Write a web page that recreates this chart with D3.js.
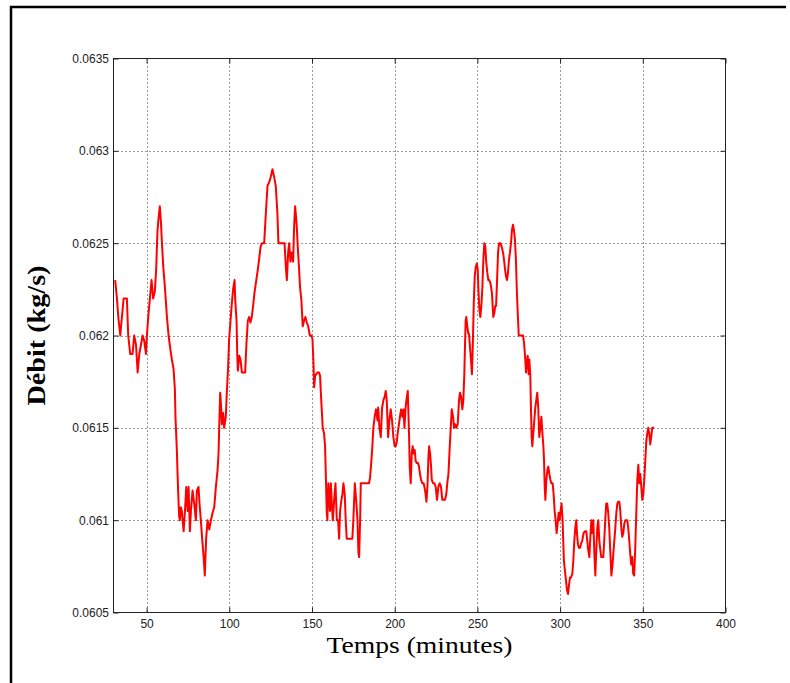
<!DOCTYPE html>
<html>
<head>
<meta charset="utf-8">
<script src="https://cdn.jsdelivr.net/npm/d3@7"></script>
<style>
  html, body { margin: 0; padding: 0; background: #fff; }
  svg { display: block; }
</style>
</head>
<body>
<svg id="chart" width="790" height="683"></svg>
<script>
// ---- data ----
const minutes = [
  31,32.1,32.9,34.1,35.1,36.1,38.1,38.9,40.1,41.5,42.5,43.6,44.6,45.6,46.6,47.6,48.6,49.6,50.2,51,
  52,53,54,55,55.8,56.6,57.3,58,58.7,59.3,60.1,61.1,62.3,63.3,64.3,65.3,66.3,67.1,67.5,68.3,
  68.7,69.1,69.7,70.1,70.7,71.3,72.4,73.2,74,74.8,75.4,76.2,76.8,77.8,78.8,79.8,80.4,81.4,82,82.8,
  83.6,84.5,85.2,86,86.9,87.9,88.9,89.9,90.9,91.9,92.9,93.5,93.9,94.5,95.1,95.5,96.3,96.9,97.9,98.5,
  99.3,99.9,100.5,101.5,102.3,103.2,103.6,104.4,104.8,105.2,106,106.8,107.6,108.4,109.6,110.4,111.2,112,112.8,113.6,
  114.4,115.2,116,117,118,118.9,119.7,121.1,122.1,123.1,124.1,125.1,126.1,127.1,128.1,129.1,129.7,131.1,132.6,133.4,
  134.2,134.8,135.6,136.2,137,137.8,138.6,139.2,139.8,140.2,140.8,141.4,142.2,142.8,143.6,144.4,145.2,146,146.9,147.7,
  148.7,149.7,150.3,150.9,151.3,151.9,152.5,153.3,154.3,154.9,155.3,155.9,156.5,157.3,157.9,158.5,158.9,159.3,159.9,160.5,
  160.9,161.4,162,162.6,163.4,164.2,165,165.8,166.4,167,167.8,168.4,169,169.8,170.4,171,172.4,173.4,174.4,175,
  175.9,176.7,177.5,178.1,178.5,179.1,179.5,180.5,182.5,184.5,185.1,185.9,186.5,187.1,187.9,188.7,189.6,190,190.8,191.6,
  192.4,193.2,194,194.6,195.2,196,196.8,197.6,198.4,199.2,200,200.6,201.2,201.8,202.6,203.2,203.9,204.7,205.3,205.9,
  206.5,207.1,207.9,208.3,208.7,209.1,209.7,210.3,210.9,211.5,212.1,212.7,213.3,214.1,214.7,215.3,215.9,216.7,217.5,218.4,
  219.2,219.8,220.4,220.8,221.4,222,222.4,223.2,224,224.8,225.6,226.4,227.2,228,228.8,229.6,230.4,231.2,231.8,232.5,
  233.3,233.9,234.5,235.3,235.9,236.5,237.3,238.1,238.9,239.5,240.1,240.9,241.5,242.1,242.5,242.9,243.3,243.9,244.5,244.9,
  245.5,246.1,246.7,247.2,247.8,248.4,249,249.6,250.2,250.6,251.2,251.8,252.4,253,253.6,254.2,254.8,255.4,256,256.6,
  257.2,258,258.8,259.6,260.2,260.8,261.3,261.9,262.5,263.1,263.9,264.7,265.5,266.1,266.7,267.3,267.9,268.5,269.1,269.7,
  270.3,270.9,271.5,272.1,272.7,273.3,273.9,274.6,275,275.8,276.6,277.6,278.2,278.8,279.4,279.8,280.4,281,281.4,282,
  282.4,282.8,283.2,283.8,284.4,285,285.6,286.2,286.8,287.4,288,288.7,289.3,289.9,290.3,290.7,291.1,291.7,292.3,292.9,
  293.5,294.1,294.7,295.5,296.1,296.7,297.3,297.9,298.5,299.1,299.7,300.3,300.9,301.5,301.9,302.3,302.9,303.6,304.2,304.8,
  305.4,306,306.6,307.4,308,308.6,309.2,309.8,310.2,310.8,311.4,312,312.6,313.4,314.2,315,315.8,316.4,317,317.7,
  318.3,318.9,319.5,320.1,320.7,321.3,321.9,322.5,323.1,323.7,324.3,324.9,325.5,326.1,326.7,327.3,327.9,328.5,329.1,329.7,
  330.3,331,331.6,332.2,332.8,333.4,334,334.6,335.2,335.8,336.4,337,337.6,338.2,338.8,339.4,340,340.6,341.2,341.8,
  342.4,343,343.6,344.2,344.8,345.4,346.1,346.7,347.3,347.9,348.5,349.1,349.7,350.3,350.9,351.5,352.1,352.7,353.3,353.9,
  354.5,355.1,355.7,356.3,356.9
];
const debit = [
  .0623,.0622,.0621,.0620,.0621,.0622,.0622,.0620,.0619,.0619,.0620,.06195,.0618,.0619,.06195,.0620,.06197,.0619,.0620,.0621,
  .0622,.0623,.0622,.06224,.06236,.06257,.06264,.0627,.06261,.0625,.06237,.06226,.0621,.0620,.06193,.06187,.06182,.06171,.06155,.06138,
  .06126,.06115,.06102,.0610,.06107,.06105,.06094,.06105,.06118,.06105,.06118,.06094,.06105,.06116,.06109,.0610,.06116,.06118,.06109,.0610,
  .0609,.0608,.0607,.0609,.0610,.06095,.0610,.06104,.06107,.06118,.06127,.06136,.0615,.06169,.06161,.06152,.06158,.0615,.06156,.06169,
  .06183,.06198,.06205,.06217,.06225,.0623,.06219,.06208,.0619,.06181,.06189,.06187,.0618,.0618,.0618,.06196,.06208,.0621,.06207,.0621,
  .06216,.06223,.06228,.06234,.06241,.06248,.0625,.0625,.06266,.06281,.06283,.06286,.0629,.06286,.06281,.06266,.0625,.0625,.0625,.0625,
  .06237,.0623,.06245,.0625,.0624,.06245,.0624,.06259,.0627,.06266,.06259,.06248,.06236,.06226,.06219,.06205,.06208,.0621,.06207,.06205,
  .0620,.0620,.06198,.06185,.06172,.06178,.06179,.0618,.0618,.06178,.0617,.0616,.0615,.06147,.0614,.0612,.06105,.0610,.0612,.06111,
  .06105,.0612,.06109,.0610,.06111,.0612,.0610,.0610,.0609,.06105,.06111,.06114,.0612,.06114,.0610,.0609,.0609,.0609,.0609,.0610,
  .0612,.06111,.0610,.06082,.0608,.0610,.0612,.0612,.0612,.0612,.06123,.06132,.0614,.0615,.06156,.0616,.06154,.06161,.0615,.06145,
  .06161,.06165,.06167,.0617,.06165,.06145,.06154,.0616,.06154,.06145,.0614,.0614,.06142,.06147,.06152,.06156,.0616,.06156,.0616,.0615,
  .0616,.06165,.0617,.06158,.06145,.06129,.0612,.06136,.0614,.06136,.06138,.06132,.06131,.06131,.06129,.06125,.06122,.0612,.0612,.06116,
  .0611,.06118,.06134,.0614,.06136,.06129,.06122,.0612,.0612,.06118,.06111,.06118,.0612,.06118,.06111,.06111,.06111,.06114,.0612,.06125,
  .0614,.0615,.0616,.06156,.0615,.06152,.0615,.06152,.06165,.06169,.06167,.0616,.06165,.06179,.06194,.06208,.0621,.06205,.06201,.06201,
  .06194,.06187,.06179,.06194,.06217,.06232,.06237,.06239,.06236,.06225,.06214,.0621,.06216,.06226,.06241,.0625,.06248,.06239,.06234,.0623,
  .0623,.06228,.06223,.0621,.06212,.06216,.06216,.0623,.06245,.0625,.0625,.06248,.06245,.06241,.06236,.06232,.0623,.06234,.06241,.06245,
  .0625,.06257,.0626,.06257,.06252,.06241,.06223,.06208,.0620,.0620,.0620,.0620,.06196,.06189,.0618,.06185,.06189,.06179,.06187,.06178,
  .0616,.06145,.0614,.06147,.06154,.06161,.06165,.06169,.06161,.06145,.0615,.06156,.06147,.0614,.06132,.06118,.06111,.06122,.06127,.06129,
  .06125,.06122,.0612,.0612,.06114,.06105,.0610,.06093,.06098,.06104,.0610,.06105,.06109,.0610,.06089,.06078,.06073,.06067,.06062,.0606,
  .06065,.06069,.06069,.06071,.06078,.06089,.06096,.0610,.06093,.06087,.06085,.06085,.06087,.06089,.06093,.06094,.06094,.06089,.06084,.0608,
  .06091,.0610,.06093,.0610,.06082,.0607,.06084,.06096,.0610,.06089,.06084,.0608,.0608,.0608,.06089,.0610,.06109,.06109,.06104,.06096,
  .06084,.0607,.06075,.06082,.06089,.06096,.06104,.06109,.0611,.0611,.06105,.06096,.06091,.06093,.06098,.0610,.0610,.0610,.06096,.06089,
  .06082,.06076,.0608,.06071,.0607,.06084,.06105,.06122,.0613,.0612,.06125,.06118,.06111,.06114,.06122,.06132,.06143,.06147,.0615,.06147,
  .06141,.06145,.0615,.0615,.0615
];
const xTicks = [50, 100, 150, 200, 250, 300, 350, 400];
const xTickLabels = ["50", "100", "150", "200", "250", "300", "350", "400"];
const yTicks = [0.0605, 0.061, 0.0615, 0.062, 0.0625, 0.063, 0.0635];
const yTickLabels = ["0.0605", "0.061", "0.0615", "0.062", "0.0625", "0.063", "0.0635"];
const xDomain = [30, 400];
const yDomain = [0.0605, 0.0635];
const xTitle = "Temps (minutes)";
const yTitle = "Débit (kg/s)";

// ---- layout ----
const L = 113.5, R = 725.5, T = 58.5, B = 612.5;
const svg = d3.select("#chart");
const x = d3.scaleLinear().domain(xDomain).range([L, R]);
const y = d3.scaleLinear().domain(yDomain).range([B, T]);

// outer frame (left and top edges)
svg.append("path")
  .attr("d", "M11,683 V7 H786")
  .attr("fill", "none").attr("stroke", "#000").attr("stroke-width", 2.5);

// grid
const grid = svg.append("g").attr("stroke", "#333").attr("stroke-width", 1)
  .attr("stroke-dasharray", "1,3");
grid.selectAll(".gx").data(xTicks.filter(d => d < xDomain[1])).enter().append("line")
  .attr("x1", d => Math.round(x(d)) + 0.5).attr("x2", d => Math.round(x(d)) + 0.5)
  .attr("y1", T).attr("y2", B);
grid.selectAll(".gy").data(yTicks.filter(d => d > yDomain[0] && d < yDomain[1])).enter().append("line")
  .attr("y1", d => Math.round(y(d)) + 0.5).attr("y2", d => Math.round(y(d)) + 0.5)
  .attr("x1", L).attr("x2", R);

// data line
svg.append("clipPath").attr("id", "clip").append("rect")
  .attr("x", L).attr("y", T).attr("width", R - L).attr("height", B - T);
const pts = minutes.map((m, i) => [m, debit[i]]);
svg.append("path")
  .datum(pts)
  .attr("clip-path", "url(#clip)")
  .attr("fill", "none")
  .attr("stroke", "#ff0000")
  .attr("stroke-width", 2)
  .attr("stroke-linejoin", "round")
  .attr("d", d3.line().x(d => x(d[0])).y(d => y(d[1])));

// axes (ticks inside, mirrored)
const tickLen = 5;
const axB = d3.axisBottom(x).tickValues(xTicks).tickSize(-tickLen).tickPadding(7)
  .tickFormat((d, i) => xTickLabels[i]);
const axT = d3.axisTop(x).tickValues(xTicks).tickSize(-tickLen).tickFormat("");
const axL = d3.axisLeft(y).tickValues(yTicks).tickSize(-tickLen).tickPadding(4.5)
  .tickFormat((d, i) => yTickLabels[i]);
const axR = d3.axisRight(y).tickValues(yTicks).tickSize(-tickLen).tickFormat("");

function style(g) {
  g.select(".domain").remove();
  g.selectAll(".tick line").attr("stroke", "#222");
  g.selectAll(".tick text").attr("fill", "#222")
    .style("font-family", "'Liberation Sans', Arial, sans-serif").style("font-size", "12px");
}
svg.append("g").attr("transform", `translate(0,${B})`).call(axB).call(style);
svg.append("g").attr("transform", `translate(0,${T})`).call(axT).call(style);
svg.append("g").attr("transform", `translate(${L},0)`).call(axL).call(style);
svg.append("g").attr("transform", `translate(${R},0)`).call(axR).call(style);

// box
svg.append("rect").attr("x", L).attr("y", T).attr("width", R - L).attr("height", B - T)
  .attr("fill", "none").attr("stroke", "#222").attr("stroke-width", 1);

// titles
svg.append("text")
  .attr("x", (L + R) / 2).attr("y", 653)
  .attr("text-anchor", "middle")
  .attr("textLength", 186).attr("lengthAdjust", "spacingAndGlyphs")
  .style("font-family", "'Liberation Serif', 'Times New Roman', serif")
  .style("font-size", "24px").attr("fill", "#000")
  .text(xTitle);
svg.append("text")
  .attr("transform", `translate(45,${(T + B) / 2}) rotate(-90)`)
  .attr("text-anchor", "middle")
  .attr("textLength", 140).attr("lengthAdjust", "spacingAndGlyphs")
  .style("font-family", "'Liberation Serif', 'Times New Roman', serif")
  .style("font-size", "25px").style("font-weight", "bold").attr("fill", "#000")
  .text(yTitle);
</script>
</body>
</html>
